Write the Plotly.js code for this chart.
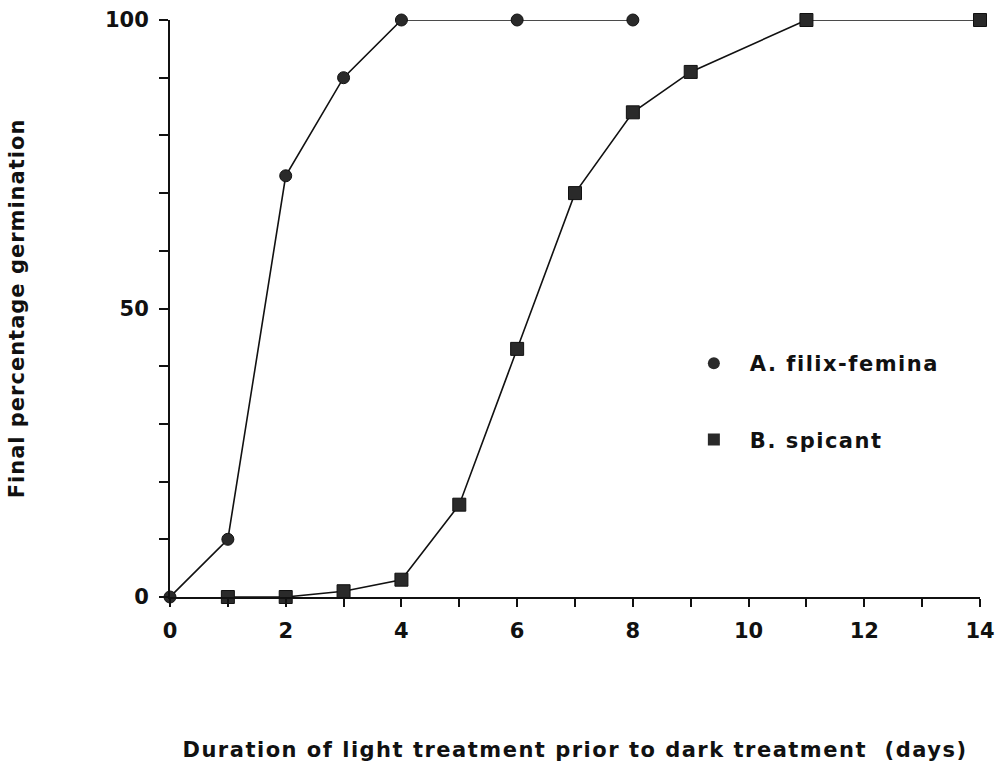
<!DOCTYPE html>
<html>
<head>
<meta charset="utf-8">
<script src="https://cdn.plot.ly/plotly-3.0.1.min.js"></script>
<style>
html,body{margin:0;padding:0;background:#fff;}
.xtitle { letter-spacing: 1.5px; }
.ytitle { letter-spacing: 1px; }
.legendtext { letter-spacing: 1.5px; }
</style>
</head>
<body>
<div id="chart" style="width:995px;height:762px;"></div>
<script>
const filixDays = [0, 1, 2, 3, 4, 6, 8];
const filixGerm = [0, 10, 73, 90, 100, 100, 100];
const spicantDays = [1, 2, 3, 4, 5, 6, 7, 8, 9, 11, 14];
const spicantGerm = [0, 0, 1, 3, 16, 43, 70, 84, 91, 100, 100];
const seriesNames = ['A. filix-femina', 'B. spicant'];

const FONT = 'DejaVu Sans, Verdana, sans-serif';
const lineStyle = {color: '#111', width: 1.6};

const traces = [
  {x: filixDays, y: filixGerm, mode: 'lines+markers', line: lineStyle,
   marker: {symbol: 'circle', size: 12, color: '#2a2a2a', line: {color: '#111', width: 1}},
   cliponaxis: false, showlegend: false},
  {x: spicantDays, y: spicantGerm, mode: 'lines+markers', line: lineStyle,
   marker: {symbol: 'square', size: 13, color: '#2a2a2a', line: {color: '#111', width: 1}},
   cliponaxis: false, showlegend: false},
  {x: [null], y: [null], mode: 'markers', name: seriesNames[0], legendgroup: 'a',
   marker: {symbol: 'circle', size: 12, color: '#2a2a2a'}},
  {x: [null], y: [null], mode: 'markers', name: seriesNames[1], legendgroup: 'b',
   marker: {symbol: 'square', size: 12, color: '#2a2a2a'}}
];

const layout = {
  width: 995, height: 762,
  margin: {l: 170, r: 15, t: 20, b: 165},
  paper_bgcolor: '#fff', plot_bgcolor: '#fff',
  font: {family: FONT, color: '#111'},
  xaxis: {
    range: [0, 14], dtick: 2, tick0: 0, showgrid: false, zeroline: false,
    showline: true, linecolor: '#111', linewidth: 2,
    ticks: 'outside', ticklen: 8, tickwidth: 2, tickcolor: '#111',
    ticklabelstandoff: 6,
    minor: {dtick: 1, ticks: 'outside', ticklen: 8, tickwidth: 2, tickcolor: '#111', showgrid: false},
    tickfont: {family: FONT, size: 21, weight: 'bold', color: '#111'},
    title: {text: 'Duration of light treatment prior to dark treatment&nbsp;&nbsp;(days)',
            font: {family: FONT, size: 21, weight: 'bold', color: '#111'}, standoff: 100}
  },
  yaxis: {
    range: [0, 100], dtick: 50, tick0: 0, showgrid: false, zeroline: false,
    showline: true, linecolor: '#111', linewidth: 2,
    ticks: 'outside', ticklen: 9, tickwidth: 2, tickcolor: '#111',
    ticklabelstandoff: 6,
    minor: {dtick: 10, ticks: 'outside', ticklen: 9, tickwidth: 2, tickcolor: '#111', showgrid: false},
    tickfont: {family: FONT, size: 21, weight: 'bold', color: '#111'},
    title: {text: 'Final percentage germination',
            font: {family: FONT, size: 21, weight: 'bold', color: '#111'}, standoff: 75}
  },
  showlegend: true,
  legend: {
    x: 0.627, y: 0.44, xanchor: 'left', yanchor: 'top',
    bgcolor: 'rgba(0,0,0,0)', borderwidth: 0,
    traceorder: 'grouped', tracegroupgap: 46, itemwidth: 62,
    font: {family: FONT, size: 21, weight: 'bold', color: '#111'}
  }
};

Plotly.newPlot('chart', traces, layout, {displayModeBar: false, staticPlot: true});
</script>
</body>
</html>
